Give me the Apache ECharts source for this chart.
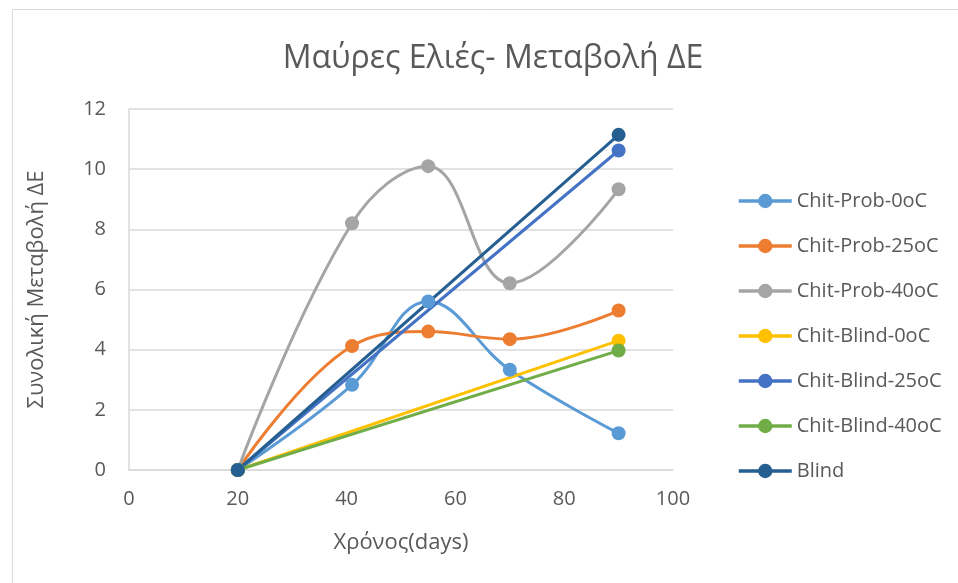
<!DOCTYPE html>
<html>
<head>
<meta charset="utf-8">
<script src="https://cdn.jsdelivr.net/npm/echarts@6/dist/echarts.min.js"></script>
<style>html,body{margin:0;padding:0;background:#fff;}#c{width:958px;height:583px;}</style>
</head>
<body>
<div id="c"></div>
<script>
const titleText = 'Μαύρες Ελιές- Μεταβολή ΔΕ';
const xName = 'Χρόνος(days)';
const yName = 'Συνολική Μεταβολή ΔΕ';
const seriesNames = ['Chit-Prob-0oC','Chit-Prob-25oC','Chit-Prob-40oC','Chit-Blind-0oC','Chit-Blind-25oC','Chit-Blind-40oC','Blind'];
const colors = ['#5B9BD5','#ED7D31','#A5A5A5','#FFC000','#4472C4','#70AD47','#255E91'];
const daysProb = [20, 41, 55, 70, 90];
const daysBlind = [20, 90];
const probOC = [0, 2.83, 5.6, 3.33, 1.22];
const prob25C = [0, 4.12, 4.6, 4.35, 5.3];
const prob40C = [0, 8.2, 10.1, 6.21, 9.33];
const blind0C = [0, 4.3];
const blind25C = [0, 10.62];
const blind40C = [0, 3.97];
const blind = [0, 11.14];

const seriesX = [daysProb, daysProb, daysProb, daysBlind, daysBlind, daysBlind, daysBlind];
const seriesY = [probOC, prob25C, prob40C, blind0C, blind25C, blind40C, blind];

const font = 'Open Sans';
const chart = echarts.init(document.getElementById('c'));
chart.setOption({
  animation: false,
  backgroundColor: '#fff',
  graphic: [{
    type: 'rect', shape: {x: 12.5, y: 9.5, width: 1000, height: 1000},
    style: {fill: 'none', stroke: '#d9d9d9', lineWidth: 1}, silent: true
  }],
  title: {
    text: titleText, left: 488, top: 38, textAlign: 'center',
    textStyle: {fontFamily: font, fontSize: 32, fontWeight: 'normal', color: '#595959'}
  },
  legend: {
    orient: 'vertical', left: 732, top: 186,
    itemWidth: 53, itemHeight: 18, itemGap: 25,
    lineStyle: {width: 3.5},
    textStyle: {fontFamily: font, fontSize: 20, color: '#595959'},
    data: seriesNames
  },
  grid: {left: 129, right: 285, top: 109, bottom: 113},
  xAxis: {
    type: 'value', min: 0, max: 100, interval: 20,
    name: xName, nameLocation: 'middle', nameGap: 62,
    nameTextStyle: {fontFamily: font, fontSize: 22, color: '#595959'},
    axisLine: {show: true, lineStyle: {color: '#d9d9d9', width: 1.5}},
    axisTick: {show: false},
    axisLabel: {margin: 19, fontFamily: font, fontSize: 20, color: '#595959'},
    splitLine: {show: false}
  },
  yAxis: {
    type: 'value', min: 0, max: 12, interval: 2,
    name: yName, nameLocation: 'middle', nameGap: 81,
    nameTextStyle: {fontFamily: font, fontSize: 22, color: '#595959'},
    axisLine: {show: true, lineStyle: {color: '#d9d9d9', width: 1.5}},
    axisTick: {show: false},
    axisLabel: {margin: 23, fontFamily: font, fontSize: 20, color: '#595959'},
    splitLine: {show: true, lineStyle: {color: '#d9d9d9', width: 1.5}}
  },
  series: seriesNames.map((n, i) => ({
    name: n, type: 'line', smooth: seriesX[i].length > 2 ? 0.4 : false,
    symbol: 'circle', symbolSize: 14,
    itemStyle: {color: colors[i]},
    lineStyle: {color: colors[i], width: 3},
    data: seriesX[i].map((x, j) => [x, seriesY[i][j]])
  }))
});
</script>
</body>
</html>
